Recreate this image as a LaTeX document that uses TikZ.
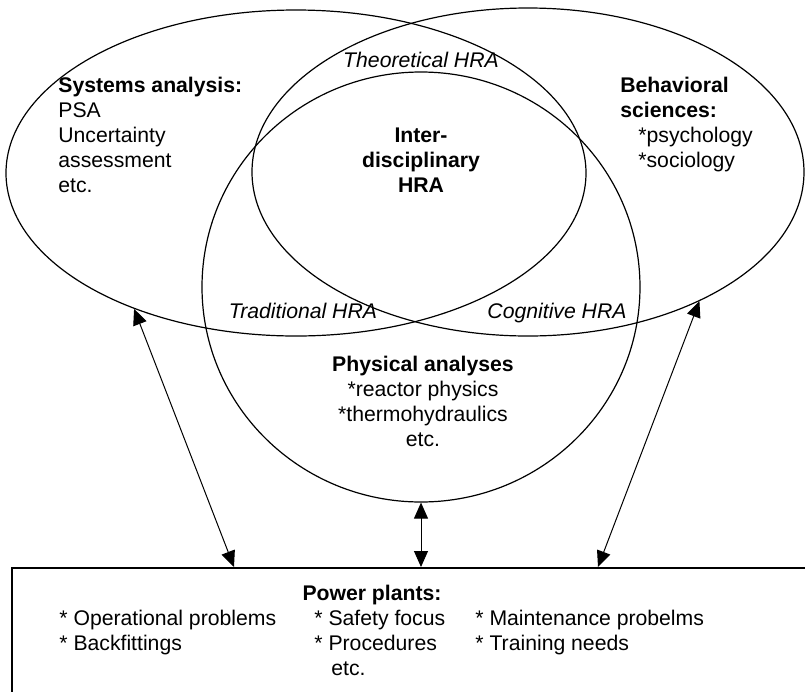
\documentclass[tikz,border=0pt]{standalone}
\usepackage{fontspec}
\setmainfont{Liberation Sans}
\usetikzlibrary{shapes.geometric,arrows.meta}

\begin{document}
\fontsize{10.6}{12.5}\selectfont
\begin{tikzpicture}[
  x=0.5pt, y=-0.5pt,
  every node/.style={inner sep=0pt},
  field/.style={draw, ellipse, line width=0.6pt},
  plantbox/.style={draw, line width=1pt, anchor=north west, minimum width=420pt, minimum height=80pt},
  link/.style={{Triangle[width=7pt,length=8pt]}-{Triangle[width=7pt,length=8pt]}, line width=0.5pt}
]
\useasboundingbox (0,0) rectangle (805,692);
\clip (0,0) rectangle (805,692);

% the three fields
\node[field, minimum width=290pt, minimum height=163pt](sys) at (296,173) {};
\node[field, minimum width=276pt, minimum height=164pt](beh) at (528,172) {};
\node[field, minimum width=219pt, minimum height=215pt](phys) at (421,287) {};

\node[anchor=north west, align=left](systxt) at (58,77) {\textbf{Systems analysis:}\\PSA\\Uncertainty\\assessment\\etc.};
\node[anchor=north west, align=left](behtxt) at (620,77) {\textbf{Behavioral}\\\textbf{sciences:}\\\hspace*{9pt}*psychology\\\hspace*{9pt}*sociology};
\node[anchor=north, align=center](phystxt) at (423,356) {\textbf{Physical analyses}\\*reactor physics\\*thermohydraulics\\etc.};
\node[anchor=north, align=center](inter) at (421,128) {\textbf{Inter-}\\\textbf{disciplinary}\\\textbf{HRA}};

% overlaps
\node[anchor=base](theo) at (421,67) {\textit{Theoretical HRA}};
\node[anchor=base](trad) at (303,318) {\textit{Traditional HRA}};
\node[anchor=base](cogn) at (557,318) {\textit{Cognitive HRA}};

% power plants
\node[plantbox](plants) at (11,567) {};
\node[anchor=north](pptitle) at (372,585) {\textbf{Power plants:}};
\node[anchor=north west, align=left](col1) at (59,610) {* Operational problems\\* Backfittings};
\node[anchor=north west, align=left](col2) at (314,610) {* Safety focus\\* Procedures\\\hspace*{8.5pt}etc.};
\node[anchor=north west, align=left](col3) at (475,610) {* Maintenance probelms\\* Training needs};

\coordinate (pl1) at (234,567);
\coordinate (pl3) at (598,567);
\draw[link] (sys.220) -- (pl1);
\draw[link] (phys.south) -- (phys.south |- plants.north);
\draw[link] (beh.-37) -- (pl3);
\end{tikzpicture}
\end{document}
